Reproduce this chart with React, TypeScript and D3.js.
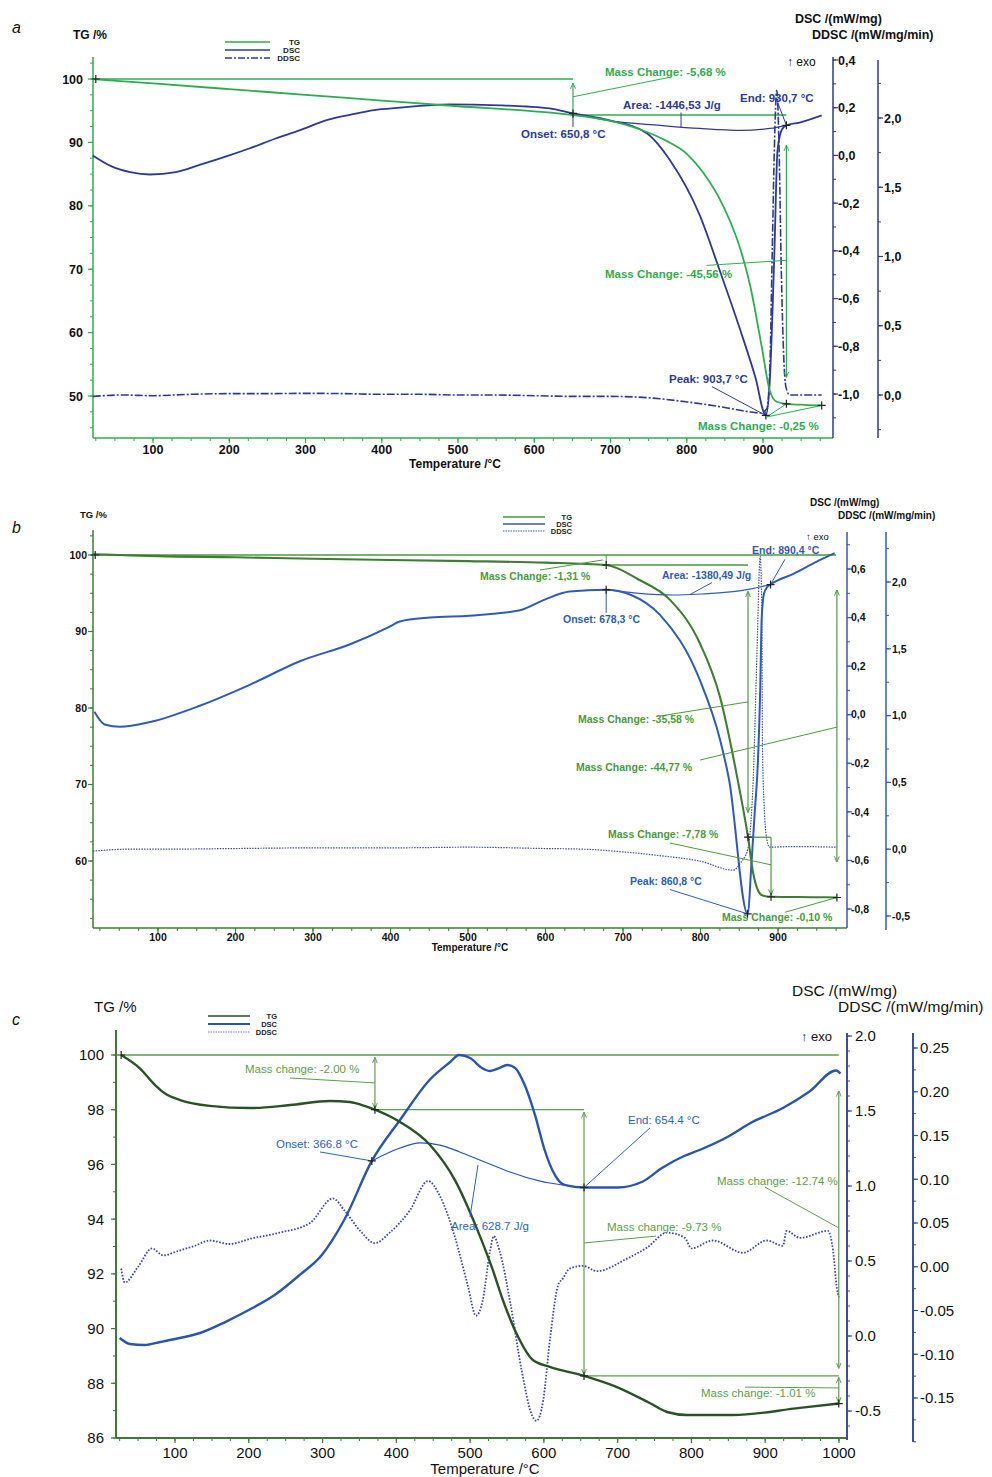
import React from 'react';
import * as d3 from 'd3';

// ---------- panel a ----------
const TEMP_TICKS_A = [100, 200, 300, 400, 500, 600, 700, 800, 900];
const TG_TICKS_A = [50, 60, 70, 80, 90, 100];
const DSC_TICKS_A = [-1.0, -0.8, -0.6, -0.4, -0.2, 0.0, 0.2, 0.4];
const DDSC_TICKS_A = [0.0, 0.5, 1.0, 1.5, 2.0];

const TEMP_A_TG = [21, 100, 200, 300, 400, 500, 600, 650.8, 700, 740, 774, 800, 820, 840, 856, 870, 883, 898, 909, 918, 930.7, 955, 977];
const TG_A = [100, 99.3, 98.4, 97.5, 96.6, 95.7, 94.9, 94.32, 93.4, 92.0, 90.2, 88.2, 85.5, 81.8, 77.8, 73.3, 67.5, 58, 50.8, 49.1, 48.76, 48.6, 48.51];

const TEMP_A_DSC = [21, 45, 70, 96, 130, 161, 200, 227, 260, 292, 330, 358, 390, 424, 460, 489, 520, 555, 590, 620, 650.8, 699, 748, 778, 817, 843, 870, 890, 903.7, 909, 915, 919, 925, 930.7, 948, 977];
const DSC_A = [0.0, -0.045, -0.07, -0.08, -0.07, -0.04, 0.0, 0.03, 0.07, 0.105, 0.15, 0.17, 0.19, 0.2, 0.21, 0.214, 0.213, 0.21, 0.205, 0.197, 0.176, 0.147, 0.092, -0.02, -0.25, -0.48, -0.73, -0.93, -1.09, -0.94, -0.4, 0.02, 0.11, 0.126, 0.138, 0.168];

const TEMP_A_BASE = [650.8, 700, 765, 817, 870, 909, 930.7];
const BASE_A = [0.176, 0.145, 0.126, 0.113, 0.105, 0.113, 0.126];

const TEMP_A_DDSC = [21, 60, 100, 150, 200, 250, 300, 350, 400, 450, 500, 550, 600, 650, 700, 750, 800, 850, 880, 896, 905, 909, 912, 915, 918, 921, 924, 927, 930, 935, 960, 977];
const DDSC_A = [-0.01, 0.0, -0.005, 0.005, 0.01, 0.01, 0.012, 0.01, 0.005, 0.005, 0.0, 0.0, -0.005, -0.01, -0.01, -0.02, -0.05, -0.09, -0.12, -0.13, -0.1, 0.2, 1.0, 1.8, 2.2, 1.8, 0.9, 0.3, 0.06, 0.0, 0.0, 0.0];

// ---------- panel b ----------
const TEMP_TICKS_B = [100, 200, 300, 400, 500, 600, 700, 800, 900];
const TG_TICKS_B = [60, 70, 80, 90, 100];
const DSC_TICKS_B = [-0.8, -0.6, -0.4, -0.2, 0.0, 0.2, 0.4, 0.6];
const DDSC_TICKS_B = [-0.5, 0.0, 0.5, 1.0, 1.5, 2.0];

const TEMP_B_TG = [16, 50, 100, 200, 300, 400, 500, 600, 678.3, 720, 761, 799, 825, 848, 861.3, 868, 874, 880, 891, 950, 976];
const TG_B = [100.1, 100, 99.85, 99.7, 99.5, 99.35, 99.2, 99.0, 98.69, 96.8, 94.1, 88.5, 81.5, 70.6, 63.11, 58.4, 56.2, 55.5, 55.33, 55.27, 55.23];

const TEMP_B_DSC = [18, 31, 51, 90, 154, 219, 283, 348, 399, 412, 451, 502, 567, 599, 631, 678.3, 709, 748, 799, 825, 837, 860.8, 866, 870, 874, 877, 879, 882, 886, 890.4, 920, 950, 973];
const DSC_B = [0.012, -0.04, -0.05, -0.03, 0.037, 0.124, 0.22, 0.29, 0.363, 0.384, 0.4, 0.408, 0.43, 0.474, 0.507, 0.515, 0.495, 0.41, 0.144, -0.1, -0.27, -0.82, -0.6, -0.4, -0.2, 0.1, 0.4, 0.5, 0.525, 0.536, 0.58, 0.63, 0.665];

const TEMP_B_BASE = [678.3, 720, 765, 800, 850, 890.4];
const BASE_B = [0.515, 0.5, 0.493, 0.497, 0.51, 0.536];

const TEMP_B_DDSC = [16, 60, 100, 200, 300, 400, 500, 600, 650, 700, 750, 800, 842, 852, 861, 865, 868, 873, 877, 879, 880, 882, 884, 889, 920, 976];
const DDSC_B = [-0.015, 0.0, 0.0, 0.005, 0.01, 0.01, 0.015, 0.005, 0.0, -0.02, -0.05, -0.09, -0.157, -0.1, 0.0, 0.2, 0.52, 1.5, 2.19, 1.86, 0.74, 0.35, 0.14, 0.015, 0.02, 0.015];

// ---------- panel c ----------
const TEMP_TICKS_C = [100, 200, 300, 400, 500, 600, 700, 800, 900, 1000];
const TG_TICKS_C = [86, 88, 90, 92, 94, 96, 98, 100];
const DSC_TICKS_C = [-0.5, 0.0, 0.5, 1.0, 1.5, 2.0];
const DDSC_TICKS_C = [-0.15, -0.1, -0.05, 0.0, 0.05, 0.1, 0.15, 0.2, 0.25];

const TEMP_C_TG = [27, 52, 73, 86, 107, 147, 202, 256, 310, 337, 357, 371, 405, 446, 480, 510, 530, 545, 565, 585, 608, 654.4, 699, 744, 767, 794, 856, 947, 999.7];
const TG_C = [100, 99.52, 98.9, 98.6, 98.35, 98.14, 98.06, 98.17, 98.32, 98.28, 98.14, 98.0, 97.55, 96.7, 95.4, 93.6, 92.2, 91.0, 89.7, 88.85, 88.6, 88.27, 87.86, 87.27, 86.95, 86.84, 86.84, 87.1, 87.26];

const TEMP_C_DSC = [25, 39, 59, 80, 100, 134, 168, 200, 235, 269, 299, 330, 366.8, 405, 445, 473, 485, 500, 516, 527, 540, 550, 561, 574, 588, 601, 615, 628, 654.4, 700, 734, 760, 790, 811, 850, 880, 924, 960, 996, 1002];
const DSC_C = [-0.013, -0.053, -0.06, -0.04, -0.02, 0.02, 0.093, 0.173, 0.273, 0.407, 0.54, 0.78, 1.167, 1.44, 1.707, 1.827, 1.873, 1.853, 1.787, 1.767, 1.787, 1.807, 1.787, 1.673, 1.473, 1.24, 1.073, 1.007, 0.99, 0.99, 1.03, 1.12, 1.2, 1.24, 1.33, 1.42, 1.52, 1.63, 1.77, 1.75];

const TEMP_C_BASE = [366.8, 405, 432, 459, 486, 513, 540, 554, 595, 608, 654.4];
const BASE_C = [1.167, 1.253, 1.287, 1.273, 1.227, 1.173, 1.12, 1.093, 1.033, 1.02, 0.99];

const TEMP_C_DDSC = [27, 32, 50, 69, 84, 104, 127, 147, 174, 202, 242, 283, 314, 330, 351, 371, 391, 418, 443, 459, 479, 497, 508, 517, 527, 532, 540, 554, 570, 584, 590, 599, 608, 619, 626, 635, 653, 672, 712, 740, 767, 791, 800, 829, 870, 902, 924, 929, 947, 985, 992, 997, 1000];
const DDSC_C = [-0.002, -0.018, 0.0, 0.021, 0.013, 0.018, 0.024, 0.03, 0.026, 0.032, 0.039, 0.05, 0.078, 0.064, 0.041, 0.027, 0.039, 0.064, 0.098, 0.081, 0.035, -0.022, -0.056, -0.039, 0.018, 0.035, 0.018, -0.039, -0.119, -0.17, -0.176, -0.153, -0.085, -0.022, -0.013, -0.002, 0.001, -0.005, 0.009, 0.022, 0.039, 0.033, 0.021, 0.03, 0.016, 0.03, 0.024, 0.041, 0.033, 0.041, 0.018, -0.024, -0.035];

const FONT = '"Liberation Sans", Arial, Helvetica, sans-serif';

const lineD = (xs: number[], ys: number[], sx: any, sy: any, curve: any = d3.curveMonotoneX) =>
  d3.line<number>().x((d) => sx(d)).y((_, i) => sy(ys[i])).curve(curve)(xs) || '';

const comma = (digits: number) => (v: number) =>
  (Math.round(v * 10 ** digits) / 10 ** digits).toFixed(digits).replace('.', ',');
const point = (digits: number) => (v: number) =>
  (Math.round(v * 10 ** digits) / 10 ** digits).toFixed(digits);

function minorTicks(s: any, p0: number, p1: number, step: number) {
  const a = s.invert(p0);
  const b = s.invert(p1);
  const lo = Math.min(a, b);
  const hi = Math.max(a, b);
  return d3.range(Math.ceil(lo / step - 1e-6), Math.floor(hi / step + 1e-6) + 1).map((k) => k * step);
}

function VAxis({ x, y0, y1, s, ticks, step, side, fmt, color, size, weight, gap, width = 1.5 }: any) {
  const dir = side === 'left' ? -1 : 1;
  return (
    <g>
      <line x1={x} x2={x} y1={y0} y2={y1} stroke={color} strokeWidth={width} />
      {minorTicks(s, y0, y1, step).map((v) => (
        <line key={'m' + v} x1={x} x2={x + dir * 3} y1={s(v)} y2={s(v)} stroke={color} strokeWidth={1} />
      ))}
      {ticks.map((v: number) => (
        <g key={v}>
          <line x1={x} x2={x + dir * 5} y1={s(v)} y2={s(v)} stroke={color} strokeWidth={1.2} />
          <text x={x + dir * gap} y={s(v)} dy="0.36em" textAnchor={side === 'left' ? 'end' : 'start'}
            fontSize={size} fontWeight={weight} fill="#111">{fmt(v)}</text>
        </g>
      ))}
    </g>
  );
}

function HAxis({ y, x0, x1, s, ticks, step, color, size, weight, labelY, width = 1.5 }: any) {
  return (
    <g>
      <line x1={x0} x2={x1} y1={y} y2={y} stroke={color} strokeWidth={width} />
      {minorTicks(s, x0, x1, step).map((v) => (
        <line key={'m' + v} x1={s(v)} x2={s(v)} y1={y} y2={y + 3} stroke={color} strokeWidth={1} />
      ))}
      {ticks.map((v: number) => (
        <g key={v}>
          <line x1={s(v)} x2={s(v)} y1={y} y2={y + 5} stroke={color} strokeWidth={1.2} />
          <text x={s(v)} y={labelY} textAnchor="middle" fontSize={size} fontWeight={weight} fill="#111">{v}</text>
        </g>
      ))}
    </g>
  );
}

const Plus = ({ cx, cy, color = '#222' }: any) => (
  <path d={`M${cx - 4},${cy}H${cx + 4}M${cx},${cy - 4}V${cy + 4}`} stroke={color} strokeWidth={1.2} fill="none" />
);

const Head = ({ id, color }: any) => (
  <marker id={id} viewBox="0 0 10 10" refX="9" refY="5" markerWidth="6" markerHeight="9" markerUnits="userSpaceOnUse" orient="auto-start-reverse">
    <path d="M0,1L10,5L0,9" fill="none" stroke={color} strokeWidth="1.6" />
  </marker>
);

function Legend({ x0, x1, lx, y, dy, size, colors, dashes, widths }: any) {
  const names = ['TG', 'DSC', 'DDSC'];
  return (
    <g>
      {names.map((n, i) => (
        <g key={n}>
          <line x1={x0} x2={x1} y1={y + i * dy} y2={y + i * dy} stroke={colors[i]} strokeWidth={widths[i]} strokeDasharray={dashes[i] || undefined} />
          <text x={lx} y={y + i * dy + size * 0.36} textAnchor="end" fontSize={size} fontWeight="bold" fill="#222">{n}</text>
        </g>
      ))}
    </g>
  );
}

function PanelA() {
  const x = d3.scaleLinear().domain([100, 900]).range([153, 763]);
  const tg = d3.scaleLinear().domain([50, 100]).range([396, 79]);
  const dsc = d3.scaleLinear().domain([-1, 0.4]).range([394, 60]);
  const ddsc = d3.scaleLinear().domain([0, 2]).range([395, 118]);
  const G = '#2fac50';
  const B = '#2c3a96';
  const fs = 11.5;
  const T = (t: number, v: number, s: any, str: string, c: string) => (
    <text x={x(t)} y={s(v)} fontSize={fs} fontWeight="bold" fill={c}>{str}</text>
  );
  const L = (t1: number, v1: number, t2: number, v2: number, s1: any, s2: any, c: string, w = 1) => (
    <line x1={x(t1)} y1={s1(v1)} x2={x(t2)} y2={s2(v2)} stroke={c} strokeWidth={w} />
  );
  return (
    <g>
      <defs><Head id="ahA" color={G} /></defs>
      <text x={12} y={33} fontSize={16} fontStyle="italic" fill="#111">a</text>
      <text x={73} y={39} fontSize={12} fontWeight="bold" fill="#111">TG /%</text>
      <text x={795} y={23} fontSize={12.5} fontWeight="bold" fill="#111">DSC /(mW/mg)</text>
      <text x={812} y={39} fontSize={12.5} fontWeight="bold" fill="#111">DDSC /(mW/mg/min)</text>
      <text x={787} y={66} fontSize={12} fill="#111">↑ exo</text>
      <Legend x0={225} x1={270} lx={300} y={42} dy={8} size={8} colors={[G, B, B]} dashes={[null, null, '7,2,2,2']} widths={[1.5, 1.5, 1.5]} />

      <VAxis x={93} y0={57} y1={438} s={tg} ticks={TG_TICKS_A} step={2.5} side="left" fmt={point(0)} color={G} size={12.5} weight="bold" gap={10} />
      <HAxis y={438} x0={93} x1={833} s={x} ticks={TEMP_TICKS_A} step={25} color={G} size={12.5} weight="bold" labelY={454} />
      <VAxis x={833} y0={57} y1={438} s={dsc} ticks={DSC_TICKS_A} step={0.1} side="right" fmt={comma(1)} color={B} size={12.5} weight="bold" gap={5} />
      <VAxis x={878} y0={60} y1={438} s={ddsc} ticks={DDSC_TICKS_A} step={0.25} side="right" fmt={comma(1)} color={B} size={12.5} weight="bold" gap={6} />
      <text x={455} y={468} textAnchor="middle" fontSize={12} fontWeight="bold" fill="#111">Temperature /°C</text>

      {/* annotation guides */}
      {L(21, 100, 650.8, 100, tg, tg, G, 1.3)}
      {L(650.8, 94.32, 930.7, 94.32, tg, tg, G, 1.3)}

      <path d={lineD(TEMP_A_DDSC, DDSC_A, x, ddsc)} fill="none" stroke={B} strokeWidth={1.6} strokeDasharray="8,2,2,2" />
      <path d={lineD(TEMP_A_BASE, BASE_A, x, dsc)} fill="none" stroke={B} strokeWidth={1.2} />
      <path d={lineD(TEMP_A_DSC, DSC_A, x, dsc)} fill="none" stroke={B} strokeWidth={1.8} />
      <path d={lineD(TEMP_A_TG, TG_A, x, tg)} fill="none" stroke={G} strokeWidth={1.8} />

      <line x1={x(650.8)} x2={x(650.8)} y1={tg(94.32)} y2={tg(99.3)} stroke={G} strokeWidth={1.2} markerEnd="url(#ahA)" />
      {L(650.8, 97.2, 775, 100.2, tg, tg, G)}
      {T(692.8, 100.47, tg, 'Mass Change: -5,68 %', G)}
      <line x1={x(930.7)} x2={x(930.7)} y1={tg(89.5)} y2={tg(53)} stroke={G} strokeWidth={1.2} markerStart="url(#ahA)" markerEnd="url(#ahA)" />
      {L(826, 70.6, 930.7, 71.4, tg, tg, G)}
      {T(692.8, 68.6, tg, 'Mass Change: -45,56 %', G)}
      {L(905, 46.7, 930.7, 48.76, tg, tg, G)}
      {L(905, 46.7, 977, 48.51, tg, tg, G)}
      {T(814.8, 44.6, tg, 'Mass Change: -0,25 %', G)}

      {L(650.8, 0.176, 650.8, 0.12, dsc, dsc, B)}
      {T(582.6, 0.071, dsc, 'Onset: 650,8 °C', B)}
      {L(792.5, 0.18, 792.5, 0.117, dsc, dsc, B)}
      {T(716.4, 0.193, dsc, 'Area: -1446,53 J/g', B)}
      {L(919.7, 0.218, 930.7, 0.126, dsc, dsc, B)}
      {T(869.8, 0.226, dsc, 'End: 930,7 °C', B)}
      {L(833, -0.969, 903.7, -1.09, dsc, dsc, B)}
      {T(776.7, -0.952, dsc, 'Peak: 903,7 °C', B)}

      <Plus cx={x(25)} cy={tg(100)} />
      <Plus cx={x(650.8)} cy={dsc(0.176)} />
      <Plus cx={x(930.7)} cy={dsc(0.126)} />
      <Plus cx={x(903.7)} cy={dsc(-1.09)} />
      <Plus cx={x(930.7)} cy={tg(48.76)} />
      <Plus cx={x(977)} cy={tg(48.51)} />
    </g>
  );
}

function PanelB() {
  const x = d3.scaleLinear().domain([100, 900]).range([158, 778]);
  const tg = d3.scaleLinear().domain([60, 100]).range([861, 555]);
  const dsc = d3.scaleLinear().domain([-0.8, 0.6]).range([909, 569]);
  const ddsc = d3.scaleLinear().domain([-0.5, 2.0]).range([916, 582]);
  const G = '#4b9a3c';
  const GL = '#3f7d33';
  const B = '#2f5bb7';
  const fs = 10.5;
  const T = (t: number, v: number, s: any, str: string, c: string) => (
    <text x={x(t)} y={s(v)} fontSize={fs} fontWeight="bold" fill={c}>{str}</text>
  );
  const L = (t1: number, v1: number, t2: number, v2: number, s1: any, s2: any, c: string, w = 1) => (
    <line x1={x(t1)} y1={s1(v1)} x2={x(t2)} y2={s2(v2)} stroke={c} strokeWidth={w} />
  );
  return (
    <g>
      <defs><Head id="ahB" color={G} /></defs>
      <text x={12} y={533} fontSize={16} fontStyle="italic" fill="#111">b</text>
      <text x={80} y={518} fontSize={9.5} fontWeight="bold" fill="#111">TG /%</text>
      <text x={810} y={506} fontSize={10} fontWeight="bold" fill="#111">DSC /(mW/mg)</text>
      <text x={838} y={519} fontSize={10} fontWeight="bold" fill="#111">DDSC /(mW/mg/min)</text>
      <text x={806} y={540} fontSize={9.5} fill="#111">↑ exo</text>
      <Legend x0={503} x1={545} lx={572} y={517} dy={7} size={7.5} colors={[G, B, B]} dashes={[null, null, '1.5,1']} widths={[1.5, 1.5, 1.2]} />

      <VAxis x={93} y0={530} y1={928} s={tg} ticks={TG_TICKS_B} step={2.5} side="left" fmt={point(0)} color={GL} size={10.5} weight="bold" gap={6} />
      <HAxis y={928} x0={93} x1={847} s={x} ticks={TEMP_TICKS_B} step={25} color={GL} size={10.5} weight="bold" labelY={941} />
      <VAxis x={847} y0={532} y1={928} s={dsc} ticks={DSC_TICKS_B} step={0.1} side="right" fmt={comma(1)} color={B} size={10.5} weight="bold" gap={4} />
      <VAxis x={886} y0={532} y1={930} s={ddsc} ticks={DDSC_TICKS_B} step={0.25} side="right" fmt={comma(1)} color={B} size={10.5} weight="bold" gap={6} />
      <text x={470} y={951} textAnchor="middle" fontSize={10} fontWeight="bold" fill="#111">Temperature /°C</text>

      {L(16, 100, 975, 100, tg, tg, G, 1.3)}
      {L(678.3, 98.69, 861.3, 98.69, tg, tg, G, 1.3)}
      {L(678.3, 98.69, 678.3, 100, tg, tg, G)}
      {L(861.3, 63.11, 891, 63.11, tg, tg, G, 1.3)}

      <path d={lineD(TEMP_B_DDSC, DDSC_B, x, ddsc)} fill="none" stroke="#3b4fa6" strokeWidth={1.2} strokeDasharray="1.5,1.2" />
      <path d={lineD(TEMP_B_BASE, BASE_B, x, dsc)} fill="none" stroke={B} strokeWidth={1.2} />
      <path d={lineD(TEMP_B_DSC, DSC_B, x, dsc)} fill="none" stroke={B} strokeWidth={2} />
      <path d={lineD(TEMP_B_TG, TG_B, x, tg)} fill="none" stroke={GL} strokeWidth={2.1} />

      {L(593, 98.04, 674, 99.35, tg, tg, G)}
      {T(515.5, 96.73, tg, 'Mass Change: -1,31 %', G)}
      <line x1={x(861.3)} x2={x(861.3)} y1={tg(95.2)} y2={tg(66.4)} stroke={G} strokeWidth={1.2} markerStart="url(#ahB)" markerEnd="url(#ahB)" />
      {L(747.7, 78.95, 861.3, 80.8, tg, tg, G)}
      {T(641.9, 78.04, tg, 'Mass Change: -35,58 %', G)}
      <line x1={x(976)} x2={x(976)} y1={tg(95.4)} y2={tg(59.9)} stroke={G} strokeWidth={1.2} markerStart="url(#ahB)" markerEnd="url(#ahB)" />
      {L(799.4, 73.2, 976, 77.5, tg, tg, G)}
      {T(639.4, 71.76, tg, 'Mass Change: -44,77 %', G)}
      <line x1={x(891)} x2={x(891)} y1={tg(63.11)} y2={tg(55.6)} stroke={G} strokeWidth={1.2} markerEnd="url(#ahB)" />
      {L(760.6, 62.35, 891, 59.5, tg, tg, G)}
      {T(680.6, 63.0, tg, 'Mass Change: -7,78 %', G)}
      {L(909, 53.3, 976, 55.23, tg, tg, G)}
      {T(827.7, 52.2, tg, 'Mass Change: -0,10 %', G)}

      {L(678.3, 0.515, 678.3, 0.42, dsc, dsc, B)}
      {T(622.6, 0.379, dsc, 'Onset: 678,3 °C', B)}
      {L(814.8, 0.544, 786.5, 0.495, dsc, dsc, B)}
      {T(750.3, 0.56, dsc, 'Area: -1380,49 J/g', B)}
      {L(909, 0.64, 890.4, 0.536, dsc, dsc, B)}
      {T(866.5, 0.66, dsc, 'End: 890,4 °C', B)}
      {L(760.6, -0.72, 860.8, -0.82, dsc, dsc, B)}
      {T(709, -0.7, dsc, 'Peak: 860,8 °C', B)}

      <Plus cx={x(19)} cy={tg(100)} />
      <Plus cx={x(678.3)} cy={tg(98.69)} />
      <Plus cx={x(861.3)} cy={tg(63.11)} />
      <Plus cx={x(891)} cy={tg(55.33)} />
      <Plus cx={x(976)} cy={tg(55.23)} />
      <Plus cx={x(678.3)} cy={dsc(0.515)} />
      <Plus cx={x(890.4)} cy={dsc(0.536)} />
      <Plus cx={x(860.8)} cy={dsc(-0.82)} />
    </g>
  );
}

function PanelC() {
  const x = d3.scaleLinear().domain([100, 1000]).range([175, 839]);
  const tg = d3.scaleLinear().domain([86, 100]).range([1438, 1055]);
  const dsc = d3.scaleLinear().domain([-0.5, 2.0]).range([1411, 1036]);
  const ddsc = d3.scaleLinear().domain([-0.15, 0.25]).range([1398, 1048]);
  const G = '#5c9e4c';
  const GD = '#2a5226';
  const B = '#2a55ad';
  const BT = '#2c62bd';
  const fs = 11.5;
  const T = (t: number, v: number, s: any, str: string, c: string) => (
    <text x={x(t)} y={s(v)} fontSize={fs} fill={c}>{str}</text>
  );
  const L = (t1: number, v1: number, t2: number, v2: number, s1: any, s2: any, c: string, w = 1) => (
    <line x1={x(t1)} y1={s1(v1)} x2={x(t2)} y2={s2(v2)} stroke={c} strokeWidth={w} />
  );
  const dbl = (t: number, v1: number, v2: number) => (
    <line x1={x(t)} x2={x(t)} y1={tg(v1)} y2={tg(v2)} stroke={G} strokeWidth={1.2} markerStart="url(#ahC)" markerEnd="url(#ahC)" />
  );
  return (
    <g>
      <defs><Head id="ahC" color={G} /></defs>
      <text x={12} y={1025} fontSize={16} fontStyle="italic" fill="#111">c</text>
      <text x={94} y={1012} fontSize={15} fill="#111">TG /%</text>
      <text x={792} y={996} fontSize={15.5} fill="#111">DSC /(mW/mg)</text>
      <text x={838} y={1012} fontSize={15.5} fill="#111">DDSC /(mW/mg/min)</text>
      <text x={801} y={1041} fontSize={13} fill="#111">↑ exo</text>
      <Legend x0={208} x1={250} lx={277} y={1016} dy={8} size={7.5} colors={[GD, B, '#6f7fcf']} dashes={[null, null, '1.5,1']} widths={[1.5, 2, 1.2]} />

      <VAxis x={116} y0={1030} y1={1438} s={tg} ticks={TG_TICKS_C} step={1} side="left" fmt={point(0)} color="#3d7a37" size={15} weight="normal" gap={12} width={2} />
      <HAxis y={1438} x0={116} x1={847} s={x} ticks={TEMP_TICKS_C} step={25} color="#3d7a37" size={15} weight="normal" labelY={1458} width={2} />
      <VAxis x={847} y0={1033} y1={1440} s={dsc} ticks={DSC_TICKS_C} step={0.1} side="right" fmt={point(1)} color="#3a4ea3" size={15} weight="normal" gap={8} width={2} />
      <VAxis x={913} y0={1033} y1={1442} s={ddsc} ticks={DDSC_TICKS_C} step={0.025} side="right" fmt={point(2)} color="#3a4ea3" size={15} weight="normal" gap={7} width={2} />
      <text x={485} y={1474} textAnchor="middle" fontSize={15} fill="#111">Temperature /°C</text>

      {L(27, 100, 999.7, 100, tg, tg, G, 1.3)}
      {L(371, 98.0, 654.4, 98.0, tg, tg, G, 1.3)}
      {L(654.4, 88.27, 999.7, 88.27, tg, tg, G, 1.3)}

      <path d={lineD(TEMP_C_DDSC, DDSC_C, x, ddsc)} fill="none" stroke="#3748a8" strokeWidth={1.8} strokeDasharray="1.6,1.6" />
      <path d={lineD(TEMP_C_BASE, BASE_C, x, dsc)} fill="none" stroke={B} strokeWidth={1.2} />
      <path d={lineD(TEMP_C_DSC, DSC_C, x, dsc)} fill="none" stroke={B} strokeWidth={2.4} />
      <path d={lineD(TEMP_C_TG, TG_C, x, tg)} fill="none" stroke={GD} strokeWidth={2.4} />

      {dbl(371, 99.9, 98.05)}
      {L(255.9, 99.16, 371, 98.98, tg, tg, G)}
      {T(194.9, 99.34, tg, 'Mass change: -2.00 %', G)}
      {dbl(654.4, 97.9, 88.33)}
      {L(752, 93.38, 654.4, 93.13, tg, tg, G)}
      {T(685.5, 93.57, tg, 'Mass change: -9.73 %', G)}
      {dbl(999.7, 98.68, 88.56)}
      {L(899.7, 95.17, 999.7, 93.68, tg, tg, G)}
      {T(834.6, 95.25, tg, 'Mass change: -12.74 %', G)}
      {dbl(999.7, 88.2, 87.3)}
      {L(872.6, 87.86, 999.7, 87.83, tg, tg, G)}
      {T(812.9, 87.5, tg, 'Mass change: -1.01 %', G)}

      {L(296.5, 1.227, 366.8, 1.167, dsc, dsc, BT)}
      {T(236.9, 1.253, dsc, 'Onset: 366.8 °C', BT)}
      {L(743.8, 1.387, 654.4, 0.99, dsc, dsc, BT)}
      {T(714, 1.413, dsc, 'End: 654.4 °C', BT)}
      {L(499.8, 0.793, 510.7, 1.14, dsc, dsc, BT)}
      {T(474.1, 0.707, dsc, 'Area: 628.7 J/g', BT)}

      <Plus cx={x(27)} cy={tg(100)} />
      <Plus cx={x(371)} cy={tg(98.0)} />
      <Plus cx={x(654.4)} cy={tg(88.27)} />
      <Plus cx={x(999.7)} cy={tg(87.26)} />
      <Plus cx={x(366.8)} cy={dsc(1.167)} />
      <Plus cx={x(654.4)} cy={dsc(0.99)} />
    </g>
  );
}

export default function App() {
  return (
    <svg width={992} height={1477} style={{ position: 'absolute', left: 0, top: 0, background: '#fff' }} fontFamily={FONT}>
      <PanelA />
      <PanelB />
      <PanelC />
    </svg>
  );
}
